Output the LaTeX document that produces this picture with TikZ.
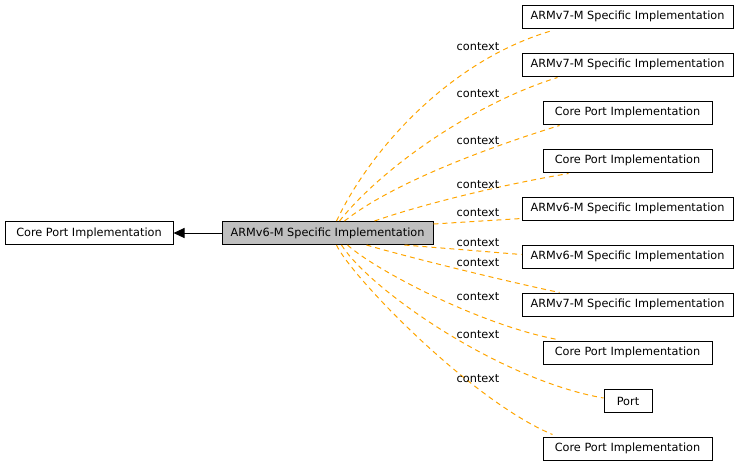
\documentclass[tikz,border=0pt]{standalone}
\usepackage{fontspec}
\setmainfont{DejaVu Sans}
\usetikzlibrary{arrows.meta}
\definecolor{edgeorange}{HTML}{FFA500}
\definecolor{maingray}{HTML}{BFBFBF}
\begin{document}
\begin{tikzpicture}[x=1pt,y=-1pt,
  box/.style={draw=black,line width=1pt,inner sep=0pt,minimum height=23pt,font=\fontsize{11.3}{12}\selectfont},
  armbox/.style={box,minimum width=211pt},
  corebox/.style={box,minimum width=169pt},
  ctx/.style={draw=edgeorange,line width=1pt,dash pattern=on 5pt off 4pt},
  lbl/.style={font=\fontsize{11.3}{12}\selectfont,inner sep=0pt}]
\useasboundingbox (0,0) rectangle (739,467);
\node[box,minimum width=168pt] (left) at (89,233) {Core Port Implementation};
\node[armbox,fill=maingray] (main) at (327.5,233) {ARMv6-M Specific Implementation};
\node[armbox] (t1) at (627.5,16.5) {ARMv7-M Specific Implementation};
\node[armbox] (t2) at (627.5,64.5) {ARMv7-M Specific Implementation};
\node[corebox] (t3) at (627.5,112.5) {Core Port Implementation};
\node[corebox] (t4) at (627.5,160.5) {Core Port Implementation};
\node[armbox] (t5) at (627.5,208.5) {ARMv6-M Specific Implementation};
\node[armbox] (t6) at (627.5,256.5) {ARMv6-M Specific Implementation};
\node[armbox] (t7) at (627.5,304.5) {ARMv7-M Specific Implementation};
\node[corebox] (t8) at (627.5,352.5) {Core Port Implementation};
\node[box,minimum width=48pt] (t9) at (628,401) {Port};
\node[corebox] (t10) at (627.5,448.5) {Core Port Implementation};
\draw[line width=1pt,-{Triangle[length=11pt,width=10pt]}] (main.west) -- (left.east);
% context edges
\draw[ctx] ([xshift=115]main.north west) .. controls (370,150) and (450,60) .. ([xshift=31,yshift=-2]t1.south west);
\draw[ctx] ([xshift=118]main.north west) .. controls (380,170) and (470,105) .. ([xshift=36,yshift=-1]t2.south west);
\draw[ctx] ([xshift=123]main.north west) .. controls (390,185) and (480,150) .. ([xshift=17,yshift=-1]t3.south west);
\draw[ctx] ([xshift=153]main.north west) .. controls (420,205) and (500,185) .. ([xshift=26,yshift=-1]t4.south west);
\draw[ctx] ([yshift=-3]main.north east) -- ([yshift=2]t5.south west);
\draw[ctx] ([xshift=183]main.south west) -- ([yshift=2]t6.west);
\draw[ctx] ([xshift=145]main.south west) .. controls (400,255) and (500,280) .. ([xshift=38]t7.north west);
\draw[ctx] ([xshift=126]main.south west) .. controls (375,270) and (480,325) .. ([xshift=15,yshift=1]t8.north west);
\draw[ctx] ([xshift=120]main.south west) .. controls (370,290) and (500,380) .. ([yshift=3]t9.west);
\draw[ctx] ([xshift=115]main.south west) .. controls (350,275) and (470,400) .. ([xshift=10,yshift=2]t10.north west);
\node[lbl] (l1) at (478,47) {context};
\node[lbl] (l2) at (478,94) {context};
\node[lbl] (l3) at (478,141) {context};
\node[lbl] (l4) at (478,185) {context};
\node[lbl] (l5) at (478,213) {context};
\node[lbl] (l6) at (478,243) {context};
\node[lbl] (l7) at (478,263) {context};
\node[lbl] (l8) at (478,297) {context};
\node[lbl] (l9) at (478,335) {context};
\node[lbl] (l10) at (478,379) {context};
\end{tikzpicture}
\end{document}
